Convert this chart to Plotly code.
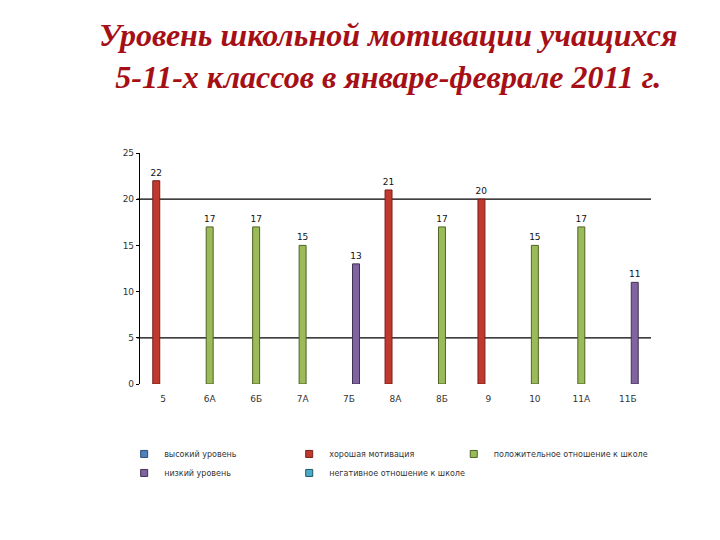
import plotly.graph_objects as go

categories = ["5", "6А", "6Б", "7А", "7Б", "8А", "8Б", "9", "10", "11А", "11Б"]
series_names = ["высокий уровень", "хорошая мотивация", "положительное отношение к школе",
                "низкий уровень", "негативное отношение к школе"]
high_level = [None] * 11
good_motivation = [22, None, None, None, None, 21, None, 20, None, None, None]
positive_attitude = [None, 17, 17, 15, None, None, 17, None, 15, 17, None]
low_level = [None, None, None, None, 13, None, None, None, None, None, 11]
negative_attitude = [None] * 11

series_values = [high_level, good_motivation, positive_attitude, low_level, negative_attitude]
colors = ["#4F81BD", "#C0392F", "#9BBB59", "#8064A2", "#4BACC6"]
edges = ["#2C4D75", "#7A1E1A", "#4F6228", "#3F3151", "#215968"]
legend_ids = ["legend", "legend2", "legend3", "legend", "legend2"]

fig = go.Figure()
for name, vals, c, e in zip(series_names, series_values, colors, edges):
    fig.add_trace(go.Bar(
        x=categories, y=vals, name=name, showlegend=False,
        marker=dict(color=c, line=dict(color=e, width=1)),
        texttemplate="%{y}", textposition="outside", constraintext="none",
        textfont=dict(size=9, color="#111", family="DejaVu Sans"),
        cliponaxis=False,
    ))
# legend entries with small square symbols
for name, c, e, lg in zip(series_names, colors, edges, legend_ids):
    fig.add_trace(go.Scatter(
        x=[None], y=[None], mode="markers", name=name, legend=lg, legendgroup=name,
        marker=dict(symbol="square", size=7, color=c, line=dict(color=e, width=1)),
    ))

for gy in [5, 20]:
    fig.add_shape(type="line", xref="paper", yref="y", x0=-0.006, x1=1, y0=gy, y1=gy,
                  line=dict(color="black", width=1.2), layer="below")

fig.add_annotation(
    text="Уровень школьной мотивации учащихся<br>5-11-х классов в январе-феврале 2011 г.",
    xref="paper", yref="paper", x=0.485, y=1.598, xanchor="center", yanchor="top",
    showarrow=False,
    font=dict(family="Liberation Serif", size=32, color="#A50F15", weight="bold", style="italic"),
)

leg_common = dict(orientation="v", yanchor="top", y=-0.24, xanchor="left",
                  font=dict(size=8, color="#333", family="DejaVu Sans"),
                  itemwidth=30, tracegroupgap=0, bgcolor="rgba(0,0,0,0)")

fig.update_layout(
    width=720, height=540,
    paper_bgcolor="white", plot_bgcolor="white",
    margin=dict(l=140, r=69, t=153, b=156),
    barmode="group", bargap=0.25, bargroupgap=0,
    xaxis=dict(showgrid=False, showline=False, ticks="", zeroline=False,
               ticklabelstandoff=8,
               tickfont=dict(size=9, color="#333", family="DejaVu Sans")),
    yaxis=dict(range=[0, 25], dtick=5, showgrid=False, zeroline=False,
               showline=True, linecolor="black", linewidth=1.2,
               ticks="outside", ticklen=3, tickcolor="black",
               tickfont=dict(size=9, color="#333", family="DejaVu Sans")),
    legend=dict(x=-0.031, **leg_common),
    legend2=dict(x=0.292, **leg_common),
    legend3=dict(x=0.614, **leg_common),
    showlegend=True,
)

fig.write_html("out.html")
